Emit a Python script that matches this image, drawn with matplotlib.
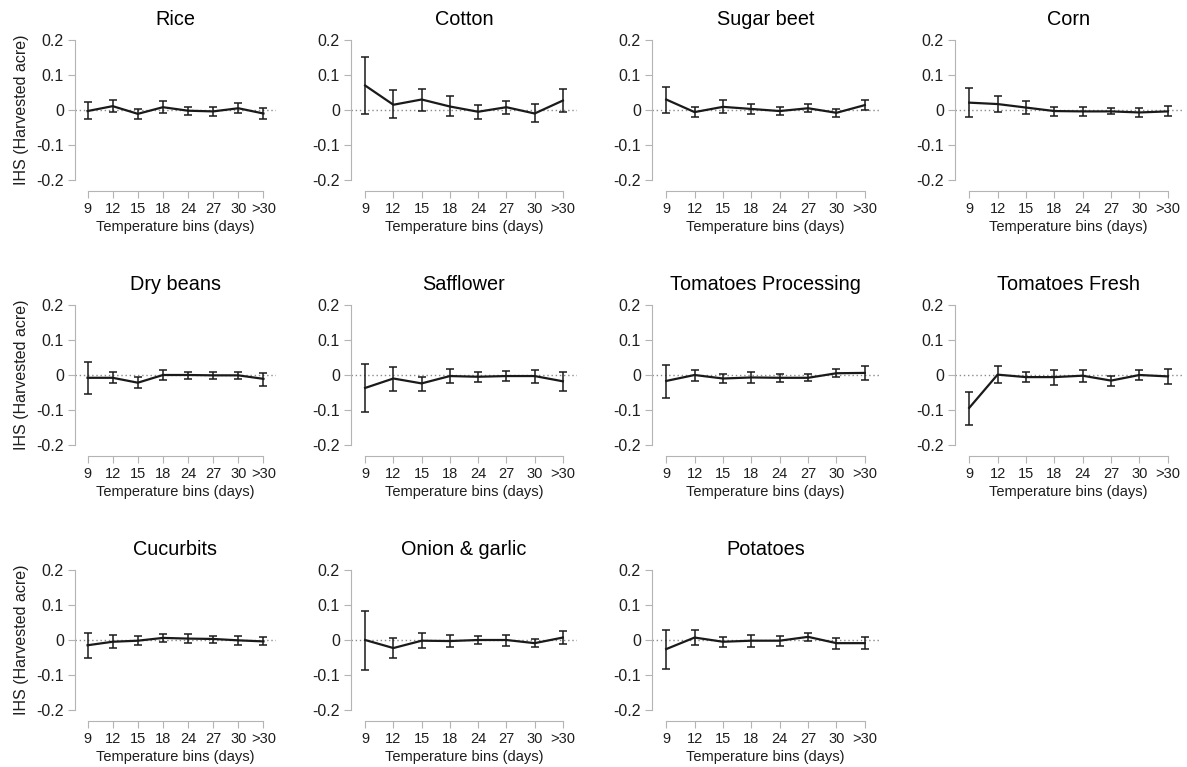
import matplotlib
matplotlib.use('Agg')
import matplotlib.pyplot as plt
import numpy as np

plt.rcParams['font.family'] = ['Liberation Sans', 'DejaVu Sans']

"""
Data read off the reference: point estimate, upper and lower CI per temperature bin
"""
bins = ['9', '12', '15', '18', '24', '27', '30', '>30']

crops = ['Rice', 'Cotton', 'Sugar beet', 'Corn',
         'Dry beans', 'Safflower', 'Tomatoes Processing', 'Tomatoes Fresh',
         'Cucurbits', 'Onion & garlic', 'Potatoes']

rice_est = [-0.003, 0.011, -0.011, 0.008, -0.002, -0.004, 0.005, -0.010]
rice_hi  = [0.023, 0.029, 0.004, 0.025, 0.010, 0.009, 0.019, 0.007]
rice_lo  = [-0.027, -0.005, -0.027, -0.009, -0.013, -0.016, -0.009, -0.026]

cotton_est = [0.070, 0.015, 0.030, 0.010, -0.005, 0.008, -0.010, 0.027]
cotton_hi  = [0.151, 0.056, 0.060, 0.040, 0.015, 0.027, 0.016, 0.059]
cotton_lo  = [-0.010, -0.023, -0.004, -0.018, -0.026, -0.010, -0.035, -0.006]

sugarbeet_est = [0.030, -0.006, 0.009, 0.003, -0.003, 0.005, -0.008, 0.014]
sugarbeet_hi  = [0.067, 0.009, 0.028, 0.018, 0.009, 0.016, 0.003, 0.029]
sugarbeet_lo  = [-0.009, -0.020, -0.008, -0.012, -0.015, -0.007, -0.019, -0.001]

corn_est = [0.021, 0.017, 0.007, -0.003, -0.004, -0.004, -0.007, -0.004]
corn_hi  = [0.062, 0.039, 0.025, 0.010, 0.009, 0.005, 0.006, 0.011]
corn_lo  = [-0.021, -0.007, -0.011, -0.016, -0.016, -0.012, -0.019, -0.018]

drybeans_est = [-0.008, -0.008, -0.022, 0.000, 0.000, -0.001, -0.001, -0.011]
drybeans_hi  = [0.038, 0.009, -0.007, 0.014, 0.010, 0.009, 0.009, 0.006]
drybeans_lo  = [-0.053, -0.023, -0.037, -0.014, -0.011, -0.010, -0.010, -0.030]

safflower_est = [-0.037, -0.010, -0.024, -0.003, -0.005, -0.003, -0.003, -0.018]
safflower_hi  = [0.031, 0.024, -0.005, 0.016, 0.010, 0.011, 0.015, 0.009]
safflower_lo  = [-0.106, -0.045, -0.047, -0.023, -0.021, -0.018, -0.023, -0.046]

tomproc_est = [-0.017, 0.000, -0.010, -0.007, -0.008, -0.008, 0.005, 0.006]
tomproc_hi  = [0.030, 0.014, 0.002, 0.008, 0.004, 0.003, 0.016, 0.027]
tomproc_lo  = [-0.066, -0.018, -0.024, -0.022, -0.020, -0.018, -0.007, -0.014]

tomfresh_est = [-0.094, 0.001, -0.006, -0.006, -0.002, -0.016, 0.000, -0.004]
tomfresh_hi  = [-0.049, 0.026, 0.009, 0.014, 0.015, -0.002, 0.015, 0.016]
tomfresh_lo  = [-0.144, -0.024, -0.021, -0.028, -0.020, -0.030, -0.015, -0.025]

cucurbits_est = [-0.015, -0.005, -0.002, 0.006, 0.004, 0.003, -0.001, -0.004]
cucurbits_hi  = [0.019, 0.013, 0.011, 0.018, 0.016, 0.012, 0.012, 0.008]
cucurbits_lo  = [-0.050, -0.023, -0.014, -0.006, -0.008, -0.008, -0.014, -0.014]

onion_est = [0.000, -0.023, -0.002, -0.003, 0.000, 0.000, -0.009, 0.007]
onion_hi  = [0.083, 0.006, 0.020, 0.014, 0.011, 0.015, 0.004, 0.026]
onion_lo  = [-0.086, -0.051, -0.024, -0.020, -0.012, -0.017, -0.020, -0.010]

potatoes_est = [-0.026, 0.007, -0.005, -0.002, -0.002, 0.009, -0.009, -0.009]
potatoes_hi  = [0.030, 0.029, 0.010, 0.013, 0.012, 0.020, 0.006, 0.008]
potatoes_lo  = [-0.083, -0.013, -0.021, -0.019, -0.016, -0.003, -0.025, -0.025]

est = [rice_est, cotton_est, sugarbeet_est, corn_est, drybeans_est, safflower_est,
       tomproc_est, tomfresh_est, cucurbits_est, onion_est, potatoes_est]
hi = [rice_hi, cotton_hi, sugarbeet_hi, corn_hi, drybeans_hi, safflower_hi,
      tomproc_hi, tomfresh_hi, cucurbits_hi, onion_hi, potatoes_hi]
lo = [rice_lo, cotton_lo, sugarbeet_lo, corn_lo, drybeans_lo, safflower_lo,
      tomproc_lo, tomfresh_lo, cucurbits_lo, onion_lo, potatoes_lo]

"""
Layout (pixels)
"""
W, H = 1187, 767
colx = [(75, 276), (351, 577), (652, 879), (955, 1182)]
rowy = [(40, 180), (305, 445), (570, 710)]
gray = '#b4b4b4'
txt = '#1e1e1e'

fig = plt.figure(figsize=(W / 100, H / 100), dpi=100)
x = np.arange(1, len(bins) + 1)

for ii in range(len(crops)):
    r, c = divmod(ii, 4)
    x0, x1 = colx[c]
    y0, y1 = rowy[r]
    ax = fig.add_axes([x0 / W, 1 - y1 / H, (x1 - x0) / W, (y1 - y0) / H])

    e = np.array(est[ii])
    yerr = [e - np.array(lo[ii]), np.array(hi[ii]) - e]
    ax.axhline(0, color='#8a8a8a', ls=(0, (1, 2)), lw=1, zorder=1)
    ax.errorbar(x, e, yerr=yerr, color='#1a1a1a', lw=1.6, elinewidth=1.1,
                capsize=3, capthick=1.1, zorder=3)

    ax.set_xlim(0.5, 8.5)
    ax.set_ylim(-0.2, 0.2)
    ax.set_xticks(x)
    ax.set_xticklabels(bins)
    ax.set_yticks([-0.2, -0.1, 0, 0.1, 0.2])
    ax.set_yticklabels(['-0.2', '-0.1', '0', '0.1', '0.2'])

    for s in ['top', 'right']:
        ax.spines[s].set_visible(False)
    ax.spines['left'].set_color(gray)
    ax.spines['bottom'].set_color(gray)
    ax.spines['left'].set_bounds(-0.2, 0.2)
    ax.spines['bottom'].set_bounds(1, 8)
    ax.spines['bottom'].set_position(('outward', 8))

    ax.tick_params(axis='y', colors=gray, labelcolor=txt, labelsize=11.5, length=5, pad=3)
    ax.tick_params(axis='x', colors=gray, labelcolor=txt, labelsize=10.5, length=5, pad=3)
    ax.set_xlabel('Temperature bins (days)', fontsize=10.5, color=txt, labelpad=3)
    if c == 0:
        ax.set_ylabel('IHS (Harvested acre)', fontsize=11.5, color=txt, labelpad=5)
    ax.set_title(crops[ii], fontsize=14.3, color='black', pad=11)

fig.savefig('out.png', dpi=100)
